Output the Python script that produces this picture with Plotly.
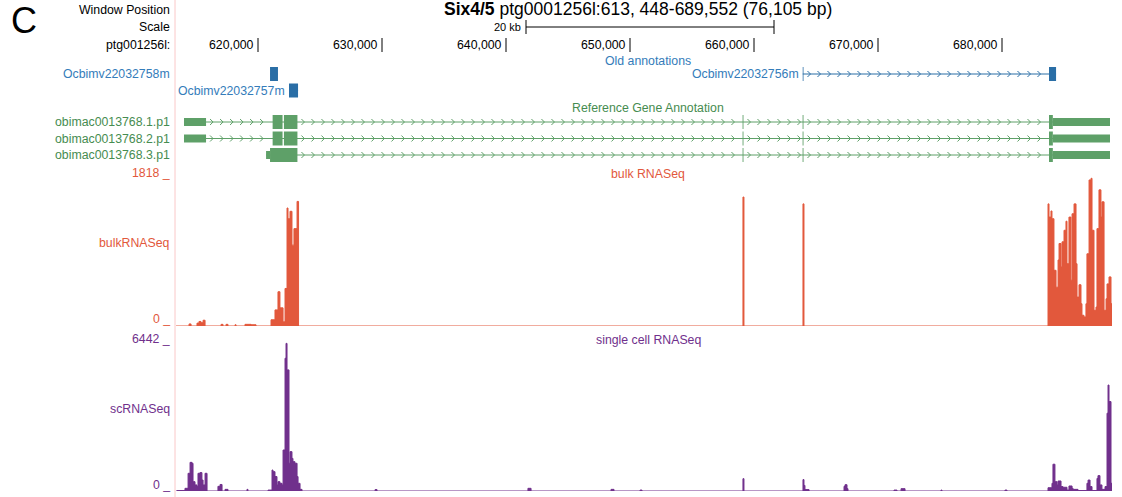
import plotly.graph_objects as go

W, H = 1122, 497
FONT = "Liberation Sans, Arial, Helvetica, sans-serif"

# ---------------- data ----------------
view_start_bp = 613387
view_end_bp = 688871

pos_ticks = [620000, 630000, 640000, 650000, 660000, 670000, 680000]
pos_tick_labels = ["620,000", "630,000", "640,000", "650,000", "660,000", "670,000", "680,000"]

scale_bar_start_bp = 641613
scale_bar_len_bp = 20000

# Old annotations (kb)
old_names = ["Ocbimv22032758m", "Ocbimv22032757m", "Ocbimv22032756m"]
old_rows = [0, 1, 0]
old_exons_kb = [
    [(620.97, 621.61)],
    [(622.50, 623.23)],
    [(663.93, 663.99), (683.79, 684.36)],
]

# Reference gene annotation (kb)
ref_names = ["obimac0013768.1.p1", "obimac0013768.2.p1", "obimac0013768.3.p1"]
ref_exons_kb = [
    [(614.03, 615.81), (621.18, 621.98), (622.09, 623.18), (659.08, 659.15), (663.92, 663.99), (683.79, 688.71)],
    [(614.03, 615.81), (621.18, 621.98), (622.09, 623.18), (659.08, 659.15), (663.92, 663.99), (683.79, 688.71)],
    [(620.65, 623.18), (659.08, 659.15), (663.92, 663.99), (683.79, 688.71)],
]
ref_thick_kb = [(621.18, 684.10), (621.18, 684.10), (620.97, 684.10)]

# bulk RNASeq signal: bin starts (kb) and values
bulk_max = 1818
bulk_start_kb = [613.39, 614.44, 614.60, 615.08, 615.24, 615.40, 615.57, 615.73, 617.02, 617.18,
                 617.42, 617.58, 618.15, 618.23, 618.95, 619.44, 619.84, 621.05, 621.37, 621.61,
                 621.77, 622.02, 622.18, 622.34, 622.42, 622.58, 622.74, 622.90, 623.15, 623.27,
                 659.11, 659.19, 663.95, 664.03, 683.71, 683.79, 683.95, 684.03, 684.19, 684.36,
                 684.52, 684.60, 684.76, 684.84, 685.00, 685.16, 685.24, 685.40, 685.56, 685.65,
                 685.81, 685.97, 686.05, 686.21, 686.37, 686.45, 686.61, 686.77, 686.85, 687.02,
                 687.18, 687.26, 687.42, 687.58, 687.66, 687.82, 687.98, 688.06, 688.23, 688.39,
                 688.47, 688.63, 688.79]
bulk_value = [0, 25, 0, 35, 55, 40, 70, 0, 20, 0,
              20, 0, 15, 0, 20, 15, 0, 75, 195, 415,
              220, 50, 455, 1430, 1300, 1390, 980, 1180, 1510, 0,
              1563, 0, 1480, 0, 1480, 1320, 1394, 1300, 675, 470,
              800, 1000, 715, 1020, 1160, 1270, 755, 1320, 555, 1360,
              1480, 755, 350, 500, 270, 130, 110, 270, 875, 1770,
              1790, 1160, 190, 230, 1180, 1650, 1320, 1505, 190, 330,
              510, 595, 270]
bulk_end_kb = 688.87

# single cell RNASeq signal
sc_max = 6442
sc_start_kb = [613.39, 613.47, 614.11, 614.36, 614.52, 614.68, 614.76, 614.92, 615.08, 615.16,
               615.32, 615.48, 615.57, 615.73, 615.89, 616.77, 616.94, 617.10, 617.34, 617.58,
               619.11, 619.19, 620.81, 621.13, 621.21, 621.37, 621.53, 621.61, 621.77, 621.94,
               622.02, 622.18, 622.26, 622.34, 622.50, 622.58, 622.74, 622.82, 622.98, 623.15,
               623.23, 623.39, 623.55, 629.44, 629.60, 641.77, 642.02, 648.47, 648.71, 650.81,
               650.97, 659.11, 659.19, 663.95, 664.03, 664.11, 664.44, 667.26, 667.34, 667.50,
               667.58, 671.29, 671.53, 671.86, 672.18, 675.08, 675.16, 680.24, 680.40, 683.71,
               684.03, 684.11, 684.27, 684.44, 684.52, 684.76, 684.92, 685.24, 685.40, 685.65,
               685.73, 686.13, 686.85, 686.94, 687.10, 687.26, 687.66, 687.74, 687.90, 688.06,
               688.31, 688.47, 688.55, 688.63, 688.79]
sc_value = [0, 20, 115, 760, 1230, 1190, 400, 260, 190, 760,
            790, 470, 260, 760, 0, 200, 280, 0, 70, 0,
            70, 0, 40, 900, 830, 620, 260, 400, 330, 260,
            1760, 5700, 6340, 5200, 1190, 1690, 1400, 1260, 1190, 620,
            330, 70, 0, 60, 0, 115, 0, 70, 0, 40,
            0, 530, 0, 490, 240, 60, 0, 200, 270, 100,
            0, 40, 0, 100, 0, 40, 0, 40, 0, 140,
            330, 1150, 400, 260, 430, 190, 160, 40, 215, 115,
            70, 20, 330, 470, 190, 20, 540, 660, 260, 70,
            190, 3340, 4550, 3840, 330]
sc_end_kb = 688.87

# ---------------- styles ----------------
RED = "rgb(226,88,60)"
PURPLE = "rgb(112,48,140)"
GREEN = "rgb(94,160,104)"
GREEN_TXT = "rgb(70,140,80)"
BLUE = "rgb(42,110,166)"
BLUE_TXT = "rgb(52,124,186)"
PINK = "rgb(250,200,200)"

X0_PX, X1_PX = 176, 1112
BP_PER_PX = (view_end_bp - view_start_bp) / (X1_PX - X0_PX)


def py(y):
    return 1 - y / H


fig = go.Figure()
shapes = []
annotations = []


def chevrons(exons_kb, yc, step_px=10, half_w_px=3, half_h=3):
    xs, ys = [], []
    step = step_px * BP_PER_PX
    hw = half_w_px * BP_PER_PX
    for (a0, a1), (b0, b1) in zip(exons_kb[:-1], exons_kb[1:]):
        p = a1 * 1000 + step * 0.7
        while p < b0 * 1000 - 1.5 * BP_PER_PX:
            xs += [p - hw, p, p - hw, None]
            ys += [yc - half_h, yc, yc + half_h, None]
            p += step
    return xs, ys


def draw_transcript(exons_kb, thick_kb, yc, color, thick_h=14, thin_h=8):
    s = exons_kb[0][0] * 1000
    e = exons_kb[-1][1] * 1000
    shapes.append(dict(type="line", xref="x", yref="y", x0=s, x1=e, y0=yc, y1=yc,
                       line=dict(color=color, width=1)))
    t0, t1 = thick_kb
    for (a, b) in exons_kb:
        parts = []
        if a < t0:
            parts.append((a, min(b, t0), thin_h))
        if b > t1:
            parts.append((max(a, t1), b, thin_h))
        ta, tb = max(a, t0), min(b, t1)
        if tb > ta:
            parts.append((ta, tb, thick_h))
        for (pa, pb, h) in parts:
            shapes.append(dict(type="rect", xref="x", yref="y", x0=pa * 1000, x1=pb * 1000,
                               y0=yc - h / 2, y1=yc + h / 2, fillcolor=color,
                               line=dict(width=0), layer="above"))
    xs, ys = chevrons(exons_kb, yc)
    fig.add_trace(go.Scatter(x=xs, y=ys, mode="lines", line=dict(color=color, width=1),
                             hoverinfo="skip", showlegend=False, xaxis="x", yaxis="y"))


def step_trace(starts_kb, vals, end_kb, color, yaxis):
    xs = [s * 1000 for s in starts_kb] + [end_kb * 1000, end_kb * 1000]
    ys = list(vals) + [vals[-1], 0]
    return go.Scatter(x=xs, y=ys, mode="lines", line=dict(shape="hv", color=color, width=1),
                      fill="tozeroy", fillcolor=color, hoverinfo="skip", showlegend=False,
                      xaxis="x", yaxis=yaxis)


fig.add_trace(step_trace(bulk_start_kb, bulk_value, bulk_end_kb, RED, "y2"))
fig.add_trace(step_trace(sc_start_kb, sc_value, sc_end_kb, PURPLE, "y3"))

old_row_y = [74, 90.5]
for name, row, exons in zip(old_names, old_rows, old_exons_kb):
    yc = old_row_y[row]
    draw_transcript(exons, (exons[0][0], exons[-1][1]), yc, BLUE)

ref_row_y = [122, 138.5, 155]
for name, exons, thick, yc in zip(ref_names, ref_exons_kb, ref_thick_kb, ref_row_y):
    draw_transcript(exons, thick, yc, GREEN)


def txt(text, x, y, color="black", size=12.3, xanchor="right", xref="paper", xshift=0):
    annotations.append(dict(text=text, x=(x / W if xref == "paper" else x), y=py(y),
                            xref=xref, yref="paper", xanchor=xanchor, yanchor="middle",
                            showarrow=False, xshift=xshift,
                            font=dict(family=FONT, size=size, color=color)))


LBL_X = 172
txt("C", 24, 21, size=36, xanchor="center")
txt("Window Position", LBL_X, 10)
txt("Scale", LBL_X, 27)
txt("ptg001256l:", LBL_X, 45)
txt("<b>Six4/5</b> ptg0001256l:613, 448-689,552 (76,105 bp)", 638, 9, size=17.5, xanchor="center")
txt("20 kb", scale_bar_start_bp, 27, size=11, xref="x", xshift=-3)

for p, lab in zip(pos_ticks, pos_tick_labels):
    txt(lab, p, 45, size=12.3, xref="x", xshift=-2)
    shapes.append(dict(type="line", xref="x", yref="y", x0=p, x1=p, y0=38, y1=52,
                       line=dict(color="black", width=1)))

sb0, sb1 = scale_bar_start_bp, scale_bar_start_bp + scale_bar_len_bp
shapes.append(dict(type="line", xref="x", yref="y", x0=sb0, x1=sb1, y0=27, y1=27,
                   line=dict(color="black", width=1)))
for xb in (sb0, sb1):
    shapes.append(dict(type="line", xref="x", yref="y", x0=xb, x1=xb, y0=20, y1=34,
                       line=dict(color="black", width=1)))

txt("Old annotations", 648, 61, color=BLUE_TXT, xanchor="center")
txt("Reference Gene Annotation", 648, 108, color=GREEN_TXT, xanchor="center")
txt("bulk RNASeq", 648, 174, color=RED, xanchor="center")
txt("single cell RNASeq", 648, 340, color=PURPLE, xanchor="center")

txt(old_names[0], LBL_X, old_row_y[0], color=BLUE_TXT)
txt(old_names[1], old_exons_kb[1][0][0] * 1000, old_row_y[1], color=BLUE_TXT, xref="x", xshift=-2)
txt(old_names[2], old_exons_kb[2][0][0] * 1000, old_row_y[0], color=BLUE_TXT, xref="x", xshift=-2)
for name, yc in zip(ref_names, ref_row_y):
    txt(name, LBL_X, yc, color=GREEN_TXT)

txt(f"{bulk_max} _", LBL_X, 173, color=RED)
txt("bulkRNASeq", LBL_X, 243, color=RED)
txt("0 _", LBL_X, 319, color=RED)
txt(f"{sc_max} _", LBL_X, 339, color=PURPLE)
txt("scRNASeq", LBL_X, 409, color=PURPLE)
txt("0 _", LBL_X, 485, color=PURPLE)

shapes.append(dict(type="line", xref="paper", yref="paper", x0=175 / W, x1=175 / W, y0=0, y1=1,
                   line=dict(color=PINK, width=1)))

fig.update_layout(
    width=W, height=H,
    margin=dict(l=0, r=0, t=0, b=0),
    paper_bgcolor="white", plot_bgcolor="rgba(0,0,0,0)",
    showlegend=False,
    xaxis=dict(domain=[X0_PX / W, X1_PX / W], range=[view_start_bp, view_end_bp], visible=False,
               fixedrange=True),
    yaxis=dict(domain=[0, 1], range=[H, 0], visible=False, fixedrange=True),
    yaxis2=dict(domain=[py(326), py(176)], range=[0, bulk_max], visible=False, anchor="x",
                fixedrange=True),
    yaxis3=dict(domain=[py(491), py(341)], range=[0, sc_max], visible=False, anchor="x",
                fixedrange=True),
    shapes=shapes,
    annotations=annotations,
)

fig.write_html("out.html", config={"displayModeBar": False},
               post_script="document.body.style.margin='0';document.body.style.overflow='hidden';")
